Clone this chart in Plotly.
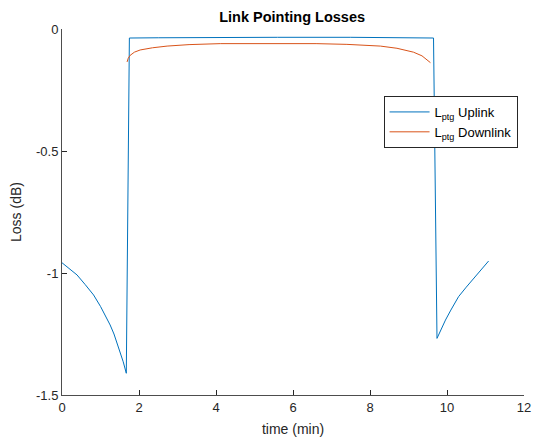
import plotly.graph_objects as go

# Uplink pointing loss (dB) vs time (min)
uplink_t = [0.0, 0.2, 0.39, 0.6, 0.82, 1.0, 1.15, 1.25, 1.35, 1.45, 1.51, 1.59, 1.67,
            1.75, 2.5, 4.0, 5.6, 7.5, 9.0, 9.65,
            9.74, 9.85, 9.96, 10.1, 10.3, 10.5, 10.74, 10.9, 11.08]
uplink_loss = [-0.958, -0.983, -1.008, -1.047, -1.090, -1.137, -1.180, -1.213, -1.250,
               -1.294, -1.322, -1.364, -1.411,
               -0.037, -0.036, -0.034, -0.034, -0.034, -0.035, -0.037,
               -1.268, -1.230, -1.193, -1.152, -1.097, -1.058, -1.015, -0.985, -0.951]

# Downlink pointing loss (dB) vs time (min)
downlink_t = [1.69, 1.72, 1.77, 1.88, 2.03, 2.35, 2.73, 3.3, 4.11, 5.0, 5.8,
              6.6, 7.4, 8.27, 8.7, 9.13, 9.35, 9.57]
downlink_loss = [-0.135, -0.12, -0.108, -0.095, -0.086, -0.077, -0.070, -0.064, -0.060,
                 -0.059, -0.059, -0.060, -0.063, -0.070, -0.079, -0.095, -0.110, -0.138]

x_ticks = [0, 2, 4, 6, 8, 10, 12]
y_ticks = [0, -0.5, -1, -1.5]
y_tick_text = ["0", "-0.5", "-1", "-1.5"]

fig = go.Figure()
fig.add_trace(go.Scatter(x=uplink_t, y=uplink_loss, mode="lines",
                         name="L<sub>ptg</sub> Uplink",
                         line=dict(color="#0072BD", width=1)))
fig.add_trace(go.Scatter(x=downlink_t, y=downlink_loss, mode="lines",
                         name="L<sub>ptg</sub> Downlink",
                         line=dict(color="#D95319", width=1)))

axis_common = dict(showgrid=False, zeroline=False, showline=True,
                   linecolor="#4d4d4d", linewidth=1, ticks="inside", ticklen=5,
                   tickcolor="#262626", tickfont=dict(size=13, color="#262626"),
                   mirror=False, automargin=False)

fig.update_layout(
    width=536, height=438,
    margin=dict(l=62, r=12, t=29, b=43),
    paper_bgcolor="white", plot_bgcolor="white",
    font=dict(family="Liberation Sans, Arial, sans-serif", size=13, color="#262626"),
    title=dict(text="<b>Link Pointing Losses</b>", x=0.545, xanchor="center",
               y=0.961, yanchor="middle", font=dict(size=14.5, color="#000000")),
    xaxis=dict(range=[0, 12], tickvals=x_ticks,
               title=dict(text="time (min)", font=dict(size=14), standoff=10),
               **axis_common),
    yaxis=dict(range=[-1.5, 0], tickvals=y_ticks, ticktext=y_tick_text,
               title=dict(text="Loss (dB)", font=dict(size=14), standoff=11),
               **axis_common),
    legend=dict(x=0.696, y=0.817, xanchor="left", yanchor="top",
                bordercolor="#262626", borderwidth=1, bgcolor="white",
                itemwidth=40,
                font=dict(size=13, color="#000000"), tracegroupgap=0),
    showlegend=True,
    hovermode=False,
)

fig.write_html(
    "out.html",
    config={"displayModeBar": False},
    post_script="document.body.style.margin='0';"
                "document.documentElement.style.overflow='hidden';",
)
